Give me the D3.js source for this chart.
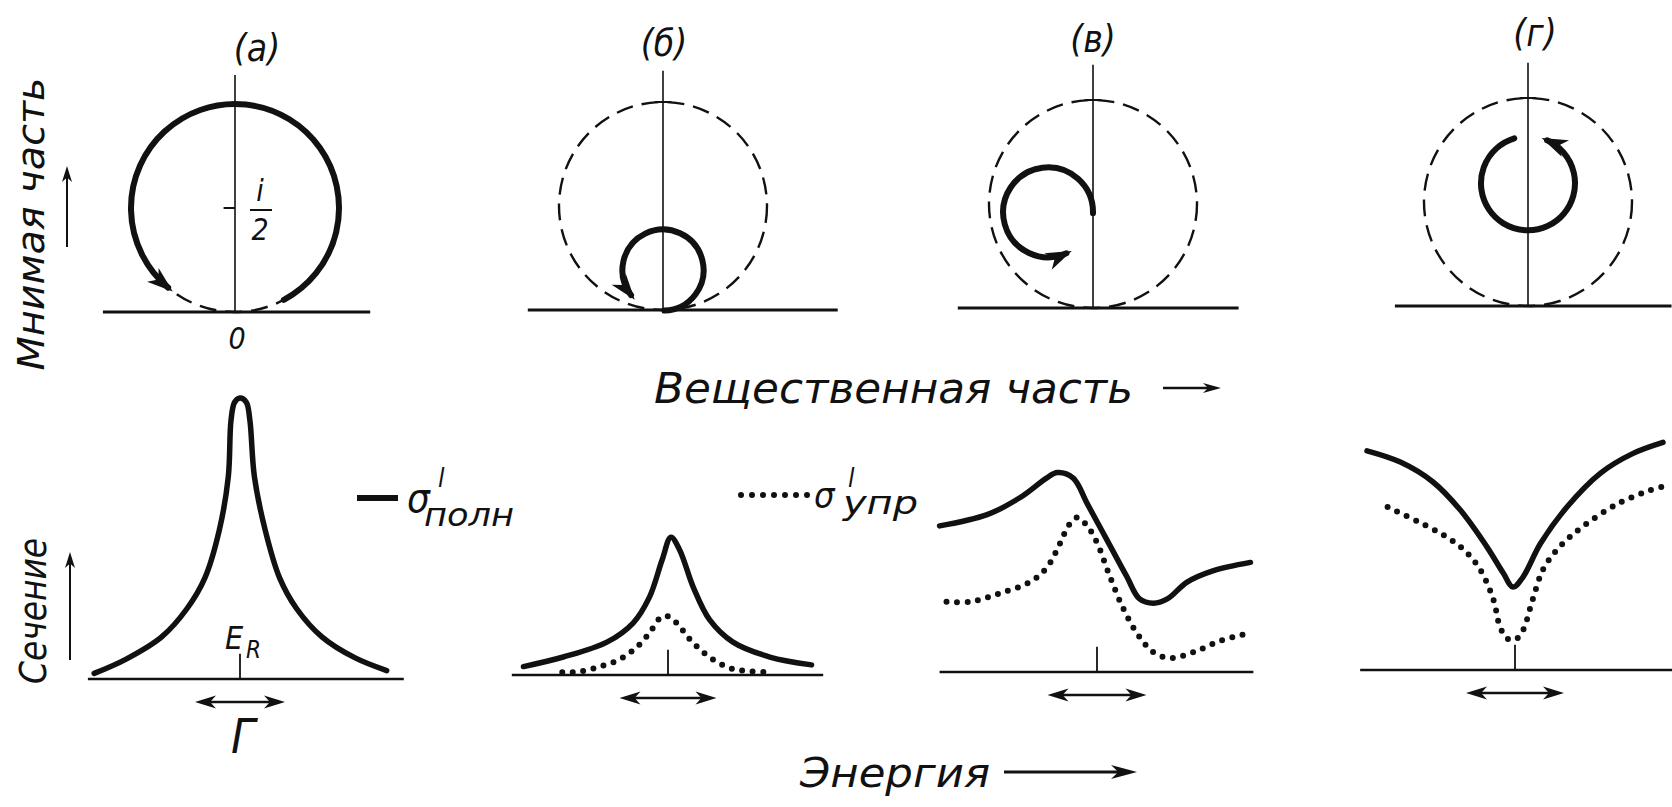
<!DOCTYPE html>
<html>
<head>
<meta charset="utf-8">
<script src="https://cdn.jsdelivr.net/npm/d3@7"></script>
<style>
  html, body { margin: 0; background: #fff; }
  svg { display: block; }
  text { font-family: "DejaVu Sans Condensed", "DejaVu Sans", sans-serif; font-style: italic; fill: #111; }
</style>
</head>
<body>
<svg id="fig" width="1672" height="807"></svg>
<script>
// ---------------- data ----------------
const panelLabels = ["(а)", "(б)", "(в)", "(г)"];

// Argand diagrams: amplitude in units where the unitarity circle has diameter 1
const unitarityCenter = [0, 0.5];
const unitarityRadius = 0.5;
const loopCenters = [[0, 0.5], [0, 0.192], [-0.216, 0.46], [0, 0.59]];
const loopRadii   = [0.5, 0.195, 0.216, 0.226];
const loopStartDeg = [152, 178, 91, -17];     // clockwise from 12 o'clock
const loopEndDeg   = [-140, -128, -204, -336]; // traversed counter-clockwise
const reRanges = [[-0.635, 0.65], [-0.65, 0.84], [-0.65, 0.70], [-0.64, 0.69]];
const imMax = [1.14, 1.15, 1.17, 1.17];

// Cross sections vs (E - E_R)/Γ, in units of the maximal partial cross section
const energyTotA = [-1.62, -1.27, -0.87, -0.59, -0.39, -0.23, -0.13, -0.10, -0.06, 0, 0.07, 0.11, 0.16, 0.28, 0.44, 0.63, 0.91, 1.28, 1.63];
const sigmaTotA  = [0.02, 0.07, 0.15, 0.25, 0.36, 0.53, 0.72, 0.92, 0.985, 1.0, 0.985, 0.92, 0.72, 0.53, 0.36, 0.25, 0.15, 0.075, 0.03];

const energyTotB = [-1.49, -1.08, -0.63, -0.36, -0.19, -0.06, 0.03, 0.12, 0.26, 0.43, 0.67, 1.05, 1.48];
const sigmaTotB  = [0.03, 0.064, 0.117, 0.185, 0.278, 0.41, 0.49, 0.445, 0.313, 0.196, 0.117, 0.064, 0.036];
const energyElB  = [-1.09, -0.91, -0.70, -0.49, -0.32, -0.19, -0.08, -0.01, 0.09, 0.23, 0.40, 0.61, 0.81, 1.02];
const sigmaElB   = [0.01, 0.012, 0.03, 0.057, 0.10, 0.15, 0.203, 0.21, 0.185, 0.125, 0.071, 0.028, 0.014, 0.01];

const energyTotV = [-1.59, -1.11, -0.78, -0.51, -0.40, -0.24, -0.10, 0.10, 0.30, 0.43, 0.57, 0.71, 0.91, 1.17, 1.55];
const sigmaTotV  = [0.52, 0.56, 0.62, 0.69, 0.71, 0.69, 0.60, 0.47, 0.34, 0.26, 0.245, 0.26, 0.32, 0.36, 0.39];
const energyElV  = [-1.52, -1.28, -0.98, -0.68, -0.51, -0.37, -0.29, -0.20, -0.10, 0, 0.13, 0.26, 0.40, 0.57, 0.74, 0.97, 1.24, 1.55];
const sigmaElV   = [0.25, 0.25, 0.28, 0.32, 0.37, 0.46, 0.52, 0.55, 0.52, 0.46, 0.34, 0.23, 0.14, 0.07, 0.05, 0.07, 0.11, 0.14];

const energyTotG = [-1.51, -1.17, -0.84, -0.56, -0.29, -0.12, -0.02, 0.08, 0.26, 0.53, 0.87, 1.20, 1.51];
const sigmaTotG  = [0.78, 0.74, 0.67, 0.57, 0.44, 0.345, 0.295, 0.33, 0.45, 0.58, 0.70, 0.77, 0.81];
const energyElG  = [-1.30, -1.00, -0.73, -0.53, -0.36, -0.22, -0.15, -0.07, 0.01, 0.08, 0.18, 0.29, 0.46, 0.69, 1.04, 1.38, 1.53];
const sigmaElG   = [0.58, 0.53, 0.48, 0.43, 0.36, 0.25, 0.15, 0.11, 0.11, 0.14, 0.25, 0.36, 0.44, 0.51, 0.59, 0.64, 0.655];

const widthBar = [-0.5, 0.5];   // Γ marker, in units of Γ

// ---------------- layout ----------------
const INK = "#111";
const svg = d3.select("#fig");
const unitPx = 208;                                   // pixels per amplitude unit
const argandOrigins = [[235, 312], [663, 310], [1093, 308], [1528, 306]];
const labelPos = [[257, 61], [664, 56], [1093, 52], [1535, 46]];

const crossFrames = [
  { tick: 240,  gamma: 90, base: 679, ext: [-1.69, 1.82] },
  { tick: 668,  gamma: 97, base: 675, ext: [-1.61, 1.60] },
  { tick: 1097, gamma: 99, base: 672, ext: [-1.59, 1.58] },
  { tick: 1515, gamma: 98, base: 670, ext: [-1.58, 1.62] }
];
const sigmaPx = 281;                                   // pixels per cross-section unit

const crossSeries = [
  { tot: [energyTotA, sigmaTotA], el: null },
  { tot: [energyTotB, sigmaTotB], el: [energyElB, sigmaElB] },
  { tot: [energyTotV, sigmaTotV], el: [energyElV, sigmaElV] },
  { tot: [energyTotG, sigmaTotG], el: [energyElG, sigmaElG] }
];

// arrowhead pointing along +x with tip at the origin
function head(len, half) {
  return `M0,0 L${-len},${-half} L${-len * 0.72},0 L${-len},${half} Z`;
}
function addHead(g, x, y, angleDeg, len, half) {
  g.append("path").attr("d", head(len, half))
    .attr("transform", `translate(${x},${y}) rotate(${angleDeg})`)
    .attr("fill", INK);
}
const rad = d => d * Math.PI / 180;

// ---------------- Argand diagrams ----------------
argandOrigins.forEach((o, i) => {
  const x = d3.scaleLinear().domain([0, 1]).range([o[0], o[0] + unitPx]);
  const y = d3.scaleLinear().domain([0, 1]).range([o[1], o[1] - unitPx]);
  const g = svg.append("g");

  // real axis
  g.append("line")
    .attr("x1", x(reRanges[i][0])).attr("x2", x(reRanges[i][1]))
    .attr("y1", y(0)).attr("y2", y(0))
    .attr("stroke", INK).attr("stroke-width", 3);
  // imaginary axis
  g.append("line")
    .attr("x1", x(0)).attr("x2", x(0))
    .attr("y1", y(0)).attr("y2", y(imMax[i]))
    .attr("stroke", INK).attr("stroke-width", 1.6);

  // unitarity circle
  const rU = x(unitarityRadius) - x(0);
  g.append("circle")
    .attr("cx", x(unitarityCenter[0])).attr("cy", y(unitarityCenter[1]))
    .attr("r", rU)
    .attr("fill", "none").attr("stroke", INK)
    .attr("stroke-width", 2.4).attr("stroke-dasharray", "17 9");

  // mark on the imaginary axis
  if (i === 0) {
    g.append("line").attr("x1", x(-0.055)).attr("x2", x(0))
      .attr("y1", y(0.5)).attr("y2", y(0.5))
      .attr("stroke", INK).attr("stroke-width", 2);
  } else {
    g.append("line").attr("x1", x(-0.04)).attr("x2", x(0.04))
      .attr("y1", y(1)).attr("y2", y(1))
      .attr("stroke", INK).attr("stroke-width", 2);
  }

  // amplitude trajectory
  const cx = x(loopCenters[i][0]), cy = y(loopCenters[i][1]);
  const r = x(loopRadii[i]) - x(0);
  const p = d3.path();
  p.arc(cx, cy, r, rad(loopStartDeg[i] - 90), rad(loopEndDeg[i] - 90), true);
  g.append("path").attr("d", p.toString())
    .attr("fill", "none").attr("stroke", INK)
    .attr("stroke-width", 6).attr("stroke-linecap", "round");

  const th = rad(loopEndDeg[i]);
  const ex = cx + r * Math.sin(th), ey = cy - r * Math.cos(th);
  const dir = Math.atan2(-Math.sin(th), -Math.cos(th)) * 180 / Math.PI;
  addHead(g, ex + 6 * Math.cos(rad(dir)), ey + 6 * Math.sin(rad(dir)), dir, 26, 9);

  // panel label
  g.append("text").text(panelLabels[i])
    .attr("x", labelPos[i][0]).attr("y", labelPos[i][1])
    .attr("text-anchor", "middle").attr("font-size", 37);
});

// labels of the first Argand diagram
{
  const o = argandOrigins[0];
  svg.append("text").text("i").attr("x", 260).attr("y", 201)
    .attr("text-anchor", "middle").attr("font-size", 30);
  svg.append("line").attr("x1", 250).attr("x2", 272).attr("y1", 210).attr("y2", 210)
    .attr("stroke", INK).attr("stroke-width", 2);
  svg.append("text").text("2").attr("x", 260).attr("y", 240)
    .attr("text-anchor", "middle").attr("font-size", 30);
  svg.append("text").text("0").attr("x", o[0] + 2).attr("y", 349)
    .attr("text-anchor", "middle").attr("font-size", 30);
}

// ---------------- cross sections ----------------
crossFrames.forEach((f, i) => {
  const x = d3.scaleLinear().domain([0, 1]).range([f.tick, f.tick + f.gamma]);
  const y = d3.scaleLinear().domain([0, 1]).range([f.base, f.base - sigmaPx]);
  const g = svg.append("g");

  // energy axis
  g.append("line").attr("x1", x(f.ext[0])).attr("x2", x(f.ext[1]))
    .attr("y1", y(0)).attr("y2", y(0))
    .attr("stroke", INK).attr("stroke-width", 2.6);
  // E_R mark
  g.append("line").attr("x1", x(0)).attr("x2", x(0))
    .attr("y1", y(0)).attr("y2", y(0.09))
    .attr("stroke", INK).attr("stroke-width", 1.8);

  const line = d3.line()
    .x(d => x(d[0])).y(d => y(d[1]))
    .curve(d3.curveCatmullRom.alpha(0.5));

  const s = crossSeries[i];
  if (s.el) {
    const pts = d3.zip(s.el[0], s.el[1]);
    g.append("path").attr("d", line(pts))
      .attr("fill", "none").attr("stroke", INK)
      .attr("stroke-width", 6).attr("stroke-linecap", "round")
      .attr("stroke-dasharray", "0 10.5");
  }
  const tot = d3.zip(s.tot[0], s.tot[1]);
  g.append("path").attr("d", line(tot))
    .attr("fill", "none").attr("stroke", INK)
    .attr("stroke-width", 5.5).attr("stroke-linecap", "round").attr("stroke-linejoin", "round");

  // Γ width marker
  const yb = f.base + 23;
  g.append("line").attr("x1", x(widthBar[0]) + 8).attr("x2", x(widthBar[1]) - 8)
    .attr("y1", yb).attr("y2", yb)
    .attr("stroke", INK).attr("stroke-width", 2.6);
  addHead(g, x(widthBar[1]), yb, 0, 21, 6.5);
  addHead(g, x(widthBar[0]), yb, 180, 21, 6.5);
});

// E_R and Γ labels of the first cross-section panel
{
  const t = svg.append("text");
  t.append("tspan").text("E").attr("x", 225).attr("y", 649).attr("font-size", 32);
  t.append("tspan").text("R").attr("x", 246).attr("y", 658).attr("font-size", 24);
  svg.append("text").text("Γ").attr("x", 243).attr("y", 753)
    .attr("text-anchor", "middle").attr("font-size", 48);
}

// legend
{
  svg.append("line").attr("x1", 357).attr("x2", 398).attr("y1", 498).attr("y2", 498)
    .attr("stroke", INK).attr("stroke-width", 6);
  const t1 = svg.append("text");
  t1.append("tspan").text("σ").attr("x", 407).attr("y", 512).attr("font-size", 40);
  t1.append("tspan").text("l").attr("x", 438).attr("y", 487).attr("font-size", 26);
  t1.append("tspan").text("полн").attr("x", 424).attr("y", 526).attr("font-size", 32)
    .attr("textLength", 90).attr("lengthAdjust", "spacingAndGlyphs");

  const dotX = d3.range(7).map(k => 741 + k * 11);
  svg.selectAll("circle.legdot").data(dotX).join("circle")
    .attr("class", "legdot").attr("cx", d => d).attr("cy", 495).attr("r", 3)
    .attr("fill", INK);
  const t2 = svg.append("text");
  t2.append("tspan").text("σ").attr("x", 814).attr("y", 508).attr("font-size", 36);
  t2.append("tspan").text("l").attr("x", 848).attr("y", 487).attr("font-size", 26);
  t2.append("tspan").text("упр").attr("x", 843).attr("y", 514).attr("font-size", 32)
    .attr("textLength", 75).attr("lengthAdjust", "spacingAndGlyphs");
}

// ---------------- axis titles ----------------
function arrowLine(x1, y1, x2, y2, w, len, half) {
  const ang = Math.atan2(y2 - y1, x2 - x1);
  svg.append("line").attr("x1", x1).attr("y1", y1)
    .attr("x2", x2 - Math.cos(ang) * len * 0.6).attr("y2", y2 - Math.sin(ang) * len * 0.6)
    .attr("stroke", INK).attr("stroke-width", w);
  addHead(svg, x2, y2, ang * 180 / Math.PI, len, half);
}

svg.append("text").text("Мнимая часть")
  .attr("transform", "translate(44,224) rotate(-90)")
  .attr("text-anchor", "middle").attr("font-size", 38)
  .attr("textLength", 293).attr("lengthAdjust", "spacingAndGlyphs");
arrowLine(67, 247, 67, 166, 2, 16, 5);

svg.append("text").text("Сечение")
  .attr("transform", "translate(46,611) rotate(-90)")
  .attr("text-anchor", "middle").attr("font-size", 38)
  .attr("textLength", 146).attr("lengthAdjust", "spacingAndGlyphs");
arrowLine(70, 660, 70, 552, 2, 16, 5);

svg.append("text").text("Вещественная часть")
  .attr("x", 654).attr("y", 403).attr("font-size", 42)
  .attr("textLength", 479).attr("lengthAdjust", "spacingAndGlyphs");
arrowLine(1163, 388, 1221, 388, 2.5, 18, 5);

svg.append("text").text("Энергия")
  .attr("x", 800).attr("y", 787).attr("font-size", 40)
  .attr("textLength", 190).attr("lengthAdjust", "spacingAndGlyphs");
arrowLine(1004, 772, 1137, 772, 3, 26, 7);
</script>
</body>
</html>
